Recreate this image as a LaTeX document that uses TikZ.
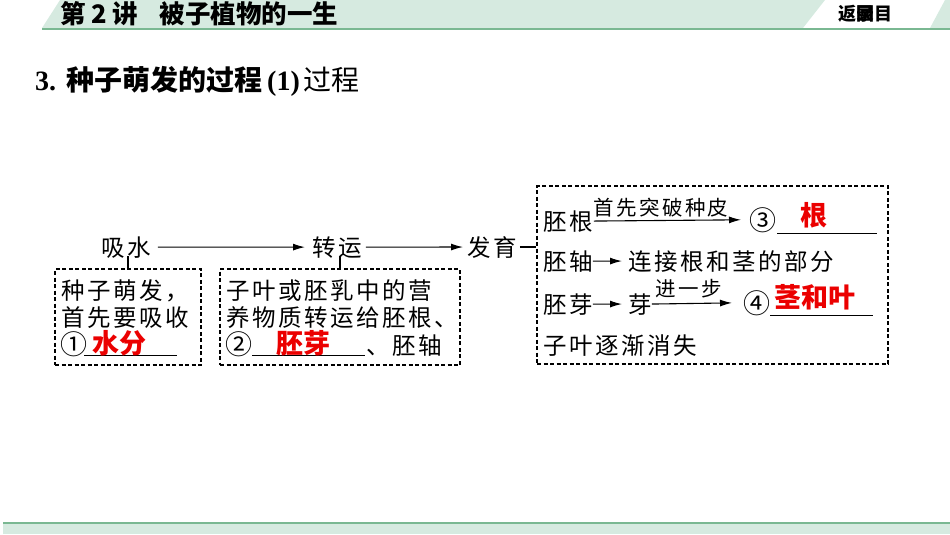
\documentclass[tikz,border=0pt]{standalone}
\usepackage{fontspec}
\setmainfont{Liberation Serif}
\newfontfamily\cjk[LetterSpace=10.6]{Noto Sans CJK SC}
\newfontfamily\cjkl[LetterSpace=12]{Noto Sans CJK SC}
\newfontfamily\cjkplain{Noto Sans CJK SC}
\usetikzlibrary{arrows.meta}
\definecolor{hdr}{RGB}{214,234,224}
\definecolor{hline}{RGB}{122,184,146}
\definecolor{ansred}{RGB}{235,0,0}
\begin{document}
\begin{tikzpicture}[x=1pt,y=-1pt,
  txt/.style={inner sep=0pt, anchor=base west, font=\cjk\fontsize{23.5}{26}\selectfont},
  one/.style={inner sep=0pt, anchor=base west, font=\cjkplain\fontsize{23.5}{26}\selectfont},
  circ/.style={inner sep=0pt, anchor=base west, font=\cjkplain\fontsize{27}{30}\selectfont},
  lbl/.style={inner sep=0pt, anchor=base west, font=\cjkl\fontsize{20.5}{22}\selectfont},
  ans/.style={inner sep=0pt, anchor=base west, text=ansred, font=\cjkplain\bfseries\fontsize{27}{30}\selectfont},
  dbox/.style={draw, line width=1.1pt, dash pattern=on 4pt off 2.5pt, inner sep=0pt},
  arr/.style={-{Latex[length=12pt,width=7pt]}, line width=1.1pt},
  uline/.style={line width=0.9pt}]
\useasboundingbox (0,0) rectangle (950,535);
% header
\fill[hdr] (42,28) -- (60,0) -- (825,0) -- (803,28) -- cycle;
\fill[hdr] (930,28) -- (945,0) -- (950,0) -- (950,28) -- cycle;
\draw[hline, line width=2pt] (42,29) -- (950,29);
\node[inner sep=0pt, anchor=base west, font=\cjkplain\bfseries\fontsize{25.5}{28}\selectfont] (htitle) at (60,24) {第\hspace{6pt}2\hspace{5pt}讲\hspace{22pt}被子植物的一生};
\node[inner sep=0pt, anchor=base west, font=\cjkplain\bfseries\fontsize{18}{20}\selectfont] (hback) at (838,21) {返\rlap{回}录目};
% bottom
\fill[hdr] (3,523) rectangle (950,534);
\draw[hline, line width=2pt] (3,523) -- (950,523);
% title
\node[inner sep=0pt, anchor=base west, font=\fontsize{28}{32}\selectfont] (title) at (35,90)
  {{\bfseries 3.}\hspace{10pt}{\cjkplain\bfseries 种子萌发的过程}\hspace{5pt}{\bfseries (1)}\hspace{4pt}{\cjkplain 过程}};
% top row
\node[txt] (xishui) at (101,256) {吸水};
\node[txt] (zhuanyun) at (312,256) {转运};
\node[txt] (fayu) at (467,256) {发育};
% boxes
\node[dbox, minimum width=146pt, minimum height=96pt] (box1) at (128,317) {};
\node[dbox, minimum width=240pt, minimum height=96pt] (box2) at (340,317) {};
\node[dbox, minimum width=351pt, minimum height=178pt] (rbox) at (712.5,275) {};
\draw[arr, shorten <=7pt, shorten >=7pt] (xishui.east) -- (zhuanyun.west);
\draw[arr, shorten <=4pt, shorten >=4pt] (zhuanyun.east) -- (fayu.west);
\draw[line width=1.1pt, shorten <=3pt] (fayu.east) -- (fayu.east -| rbox.west);
\draw[line width=1.1pt] (box1.north) -- ++(0,-12);
\draw[line width=1.1pt] (box2.north) -- ++(0,-12);
% box 1
\node[txt] (b1a) at (61,299) {种子萌发，};
\node[txt] (b1b) at (61,326) {首先要吸收};
\node[circ] (c1) at (60,354) {①};
\draw[uline] (84,355) -- (177,355);
\node[ans] (a1) at (92,353) {水分};
% box 2
\node[txt] (b2a) at (226,299) {子叶或胚乳中的营};
\node[txt] (b2b) at (226,326) {养物质转运给胚根、};
\node[circ] (c2) at (225,354) {②};
\draw[uline] (252,355) -- (365,355);
\node[ans] (a2) at (276,353) {胚芽};
\node[txt] (b2c) at (366,354) {、胚轴};
% right box
\node[txt] (r1) at (543,230) {胚根};
\node[circ] (c3) at (749,230) {③};
\draw[arr, shorten <=1pt, shorten >=8pt] (r1.east) -- (c3.west);
\node[lbl] (l1) at (593,215) {首先突破种皮};
\draw[uline] (777,233) -- (877,233);
\node[ans] (a3) at (800,225) {根};
\node[txt] (r2) at (543,270) {胚轴};
\node[txt] (r2b) at (628,270) {连接根和茎的部分};
\draw[arr, shorten >=6pt] (r2.east) -- (r2b.west);
\node[txt] (r3) at (543,313) {胚芽};
\node[one] (r3b) at (628,313) {芽};
\draw[arr, shorten >=6pt] (r3.east) -- (r3b.west);
\node[circ] (c4) at (743,313) {④};
\draw[arr, shorten >=11pt] (r3b.east) -- (c4.west);
\node[lbl] (l2) at (655,296) {进一步};
\draw[uline] (770,315) -- (873,315);
\node[ans] (a4) at (774,307) {茎和叶};
\node[txt] (r4) at (543,354) {子叶逐渐消失};
\end{tikzpicture}
\end{document}
